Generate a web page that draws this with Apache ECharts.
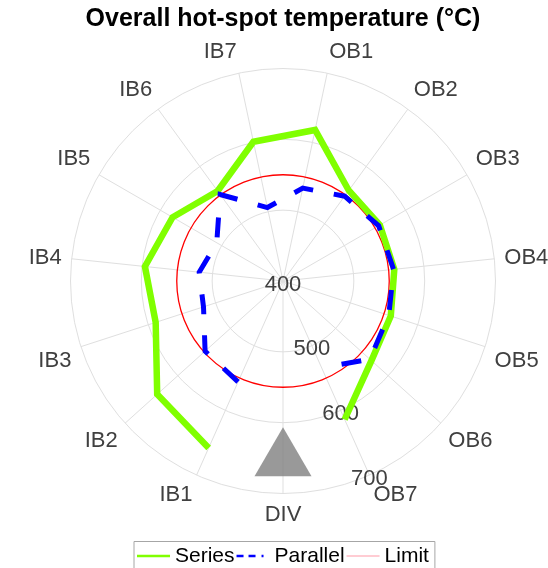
<!DOCTYPE html>
<html><head><meta charset="utf-8">
<script src="https://cdn.jsdelivr.net/npm/echarts@6/dist/echarts.min.js"></script>
<style>html,body{margin:0;padding:0;background:#fff}#c{width:548px;height:568px}</style>
</head><body><div id="c"></div>
<script>
// ---- data ----
const categories = ['DIV','IB1','IB2','IB3','IB4','IB5','IB6','IB7','OB1','OB2','OB3','OB4','OB5','OB6','OB7'];
const seriesVals   = [null, 658, 639, 589, 596, 580, 557, 601, 618, 558, 558, 558, 560, 568, 614];
const parallelVals = [null, 556, 548, 518, 519, 508, 551, 506, 534, 548, 556, 557, 557, 565, 534];
const limitValue = 550;
const divMarkerValue = 641;
const radialTicks = [400, 500, 600, 700];
const titleText = 'Overall hot-spot temperature (°C)';

// ---- build ----
const FONT = 'Liberation Sans, Arial, Helvetica, sans-serif';
// angle axis starts at OB7 so that the radial labels sit along the OB7 spoke
const axisCats = [categories[categories.length - 1]].concat(categories.slice(0, -1));
const angleIndex = c => axisCats.indexOf(c);
function pairs(vals) {
  const out = [];
  categories.forEach((c, i) => { if (vals[i] != null) out.push([vals[i], angleIndex(c)]); });
  return out;
}
const labelFont = { fontFamily: FONT, fontSize: 22, color: '#404040' };

const chart = echarts.init(document.getElementById('c'), null, { renderer: 'canvas' });
chart.setOption({
  animation: false,
  backgroundColor: '#ffffff',
  title: {
    text: titleText, left: 283, top: 7, padding: 0, textAlign: 'center',
    textStyle: { fontFamily: FONT, fontSize: 25, fontWeight: 'bold', color: '#000' }
  },
  legend: {
    data: [
      { name: 'Series', icon: 'path://M0,0H33V2.5H0Z', itemStyle: { color: '#80ff00' } },
      { name: 'Parallel', icon: 'path://M0,0H7V2.5H0Z M12,0H19V2.5H12Z M25,0H27V2.5H25Z M27,0H33V0.01H27Z', itemStyle: { color: '#0000ff' } },
      { name: 'Limit', icon: 'path://M0,0H33V1H0Z', itemStyle: { color: '#ff9aa8' } }
    ],
    left: 134, top: 541.5, orient: 'horizontal',
    padding: [4, 6, 8, 3], itemGap: 2, itemWidth: 33, itemHeight: 14,
    borderColor: '#a6a6a6', borderWidth: 1, borderRadius: 0,
    textStyle: { fontFamily: FONT, fontSize: 21, color: '#000' }
  },
  polar: { center: [283, 281], radius: 212.5 },
  angleAxis: {
    type: 'value', min: 0, max: axisCats.length, interval: 1,
    startAngle: 294, clockwise: true,
    axisLine: { show: false }, axisTick: { show: false },
    axisLabel: Object.assign({
      margin: 10,
      formatter: function (v) {
        const name = axisCats[v];
        if (v >= axisCats.length || !name) return '';
        if (name === 'IB7') return '{r|' + name + '}';
        if (name === 'OB1') return '{l|' + name + '}';
        return name;
      },
      rich: {
        r: Object.assign({ padding: [0, 33, 0, 0] }, labelFont),
        l: Object.assign({ padding: [0, 0, 0, 44] }, labelFont)
      }
    }, labelFont),
    splitLine: { show: true, lineStyle: { color: '#dfdfdf', width: 1 } }
  },
  radiusAxis: {
    type: 'value', min: radialTicks[0], max: radialTicks[radialTicks.length - 1],
    interval: radialTicks[1] - radialTicks[0],
    axisLine: { show: false }, axisTick: { show: false },
    axisLabel: Object.assign({
      margin: 0, align: 'center', verticalAlign: 'middle',
      formatter: v => '{a|' + v + '}',
      rich: { a: Object.assign({ padding: [7, 0, 0, 0] }, labelFont) }
    }, labelFont),
    splitLine: { show: true, lineStyle: { color: '#dfdfdf', width: 1 } }
  },
  series: [
    {
      type: 'scatter', name: 'DIV', coordinateSystem: 'polar', clip: false,
      data: [[divMarkerValue, angleIndex('DIV')]], symbol: 'triangle', symbolSize: [57, 49],
      itemStyle: { color: '#808080' }, silent: true
    },
    {
      type: 'line', name: 'Series', coordinateSystem: 'polar', data: pairs(seriesVals), clip: false,
      symbol: 'none', itemStyle: { color: '#80ff00' },
      lineStyle: { color: '#80ff00', width: 6.5, join: 'miter', cap: 'butt' }
    },
    {
      type: 'line', name: 'Parallel', coordinateSystem: 'polar', data: pairs(parallelVals), clip: false,
      symbol: 'none', itemStyle: { color: '#0000ff' },
      lineStyle: { color: '#0000ff', width: 5, type: [20, 21], join: 'miter', cap: 'butt' }
    },
    {
      type: 'custom', name: 'Limit', coordinateSystem: 'polar', clip: false,
      data: [[limitValue, 0]], itemStyle: { color: '#ff0000' },
      renderItem: function (params, api) {
        const cs = params.coordSys;
        const p = api.coord([api.value(0), api.value(1)]);
        const r = Math.hypot(p[0] - cs.cx, p[1] - cs.cy);
        return { type: 'circle', shape: { cx: cs.cx, cy: cs.cy, r: r },
                 style: { fill: 'none', stroke: '#ff0000', lineWidth: 1.3 } };
      }
    }
  ]
});
</script></body></html>
